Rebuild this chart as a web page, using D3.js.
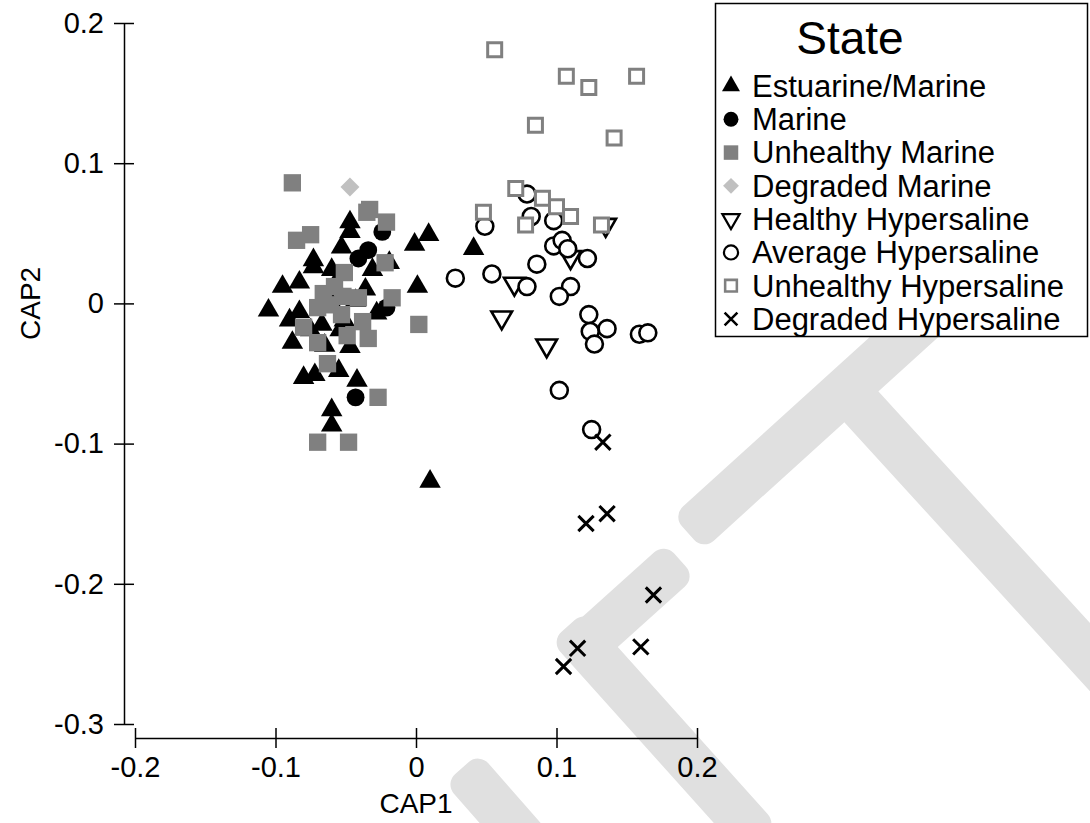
<!DOCTYPE html>
<html>
<head>
<meta charset="utf-8">
<script src="https://cdn.jsdelivr.net/npm/d3@7"></script>
<style>
  html, body { margin: 0; padding: 0; background: #ffffff; }
  svg { display: block; font-family: "Liberation Sans", Arial, sans-serif; }
</style>
</head>
<body>
<svg id="chart" width="1090" height="823"></svg>
<script>
// CAP ordination scores (CAP1, CAP2) for each sample, grouped by state
const estuarineMarine = [
  [-0.105, -0.005], [-0.095, 0.012], [-0.083, 0.015], [-0.083, -0.006], [-0.073, 0.031],
  [-0.073, 0.026], [-0.060, 0.024], [-0.053, 0.040], [-0.047, 0.058], [-0.047, 0.051],
  [-0.031, 0.024], [-0.019, 0.029], [-0.001, 0.042], [0.009, 0.049], [0.001, 0.012],
  [-0.028, -0.007], [-0.088, -0.028], [-0.080, -0.053], [-0.072, -0.051], [-0.055, -0.048],
  [-0.042, -0.055], [-0.060, -0.076], [-0.060, -0.087], [-0.047, -0.031], [0.041, 0.039],
  [0.010, -0.127], [-0.061, 0.002], [-0.054, -0.019], [-0.065, -0.030], [-0.051, -0.012],
  [-0.043, 0.002], [-0.075, -0.019], [-0.090, -0.012], [-0.067, -0.015], [-0.036, 0.010],
  [-0.058, 0.013]
];
const marine = [
  [-0.043, -0.067], [-0.021, -0.003], [-0.024, 0.051], [-0.034, 0.038], [-0.041, 0.032]
];
const unhealthyMarine = [
  [-0.088, 0.086], [-0.085, 0.045], [-0.075, 0.049], [-0.035, 0.065], [-0.033, 0.067],
  [-0.021, 0.058], [-0.022, 0.029], [-0.051, 0.022], [-0.066, 0.007], [-0.052, 0.005],
  [-0.041, 0.004], [-0.017, 0.004], [-0.070, -0.003], [-0.053, -0.008], [-0.038, -0.013],
  [-0.080, -0.017], [-0.049, -0.023], [-0.034, -0.025], [-0.070, -0.028], [-0.063, -0.043],
  [0.002, -0.015], [-0.027, -0.067], [-0.070, -0.099], [-0.048, -0.099], [-0.061, -0.001],
  [-0.058, 0.012]
];
const degradedMarine = [
  [-0.047, 0.083]
];
const healthyHypersaline = [
  [0.135, 0.056], [0.110, 0.033], [0.070, 0.014], [0.061, -0.010], [0.093, -0.030]
];
const averageHypersaline = [
  [0.079, 0.078], [0.082, 0.062], [0.098, 0.059], [0.049, 0.055], [0.098, 0.041],
  [0.104, 0.045], [0.108, 0.039], [0.122, 0.032], [0.086, 0.028], [0.028, 0.018],
  [0.054, 0.021], [0.079, 0.012], [0.110, 0.012], [0.102, 0.005], [0.123, -0.008],
  [0.124, -0.020], [0.136, -0.018], [0.127, -0.029], [0.159, -0.022], [0.165, -0.021],
  [0.102, -0.062], [0.125, -0.090]
];
const unhealthyHypersaline = [
  [0.056, 0.181], [0.107, 0.162], [0.123, 0.154], [0.157, 0.162], [0.085, 0.127],
  [0.141, 0.118], [0.071, 0.082], [0.090, 0.075], [0.100, 0.069], [0.110, 0.062],
  [0.048, 0.065], [0.078, 0.056], [0.132, 0.056]
];
const degradedHypersaline = [
  [0.133, -0.099], [0.121, -0.157], [0.136, -0.150], [0.169, -0.208], [0.115, -0.246],
  [0.105, -0.259], [0.160, -0.245]
];

const stateNames = [
  "Estuarine/Marine", "Marine", "Unhealthy Marine", "Degraded Marine",
  "Healthy Hypersaline", "Average Hypersaline", "Unhealthy Hypersaline", "Degraded Hypersaline"
];
const xTicks = [-0.2, -0.1, 0, 0.1, 0.2];
const yTicks = [0.2, 0.1, 0, -0.1, -0.2, -0.3];
const xTitle = "CAP1";
const yTitle = "CAP2";
const legendTitle = "State";

// Marker styling for each state (same order as stateNames)
const styles = [
  { data: estuarineMarine,      type: d3.symbolTriangle, size: 200, fill: "#000", stroke: "none", sw: 0, rot: 0 },
  { data: marine,               type: d3.symbolCircle,   size: 250, fill: "#000", stroke: "none", sw: 0, rot: 0 },
  { data: unhealthyMarine,      type: d3.symbolSquare,   size: 300, fill: "#808080", stroke: "none", sw: 0, rot: 0 },
  { data: degradedMarine,       type: d3.symbolSquare,   size: 180, fill: "#c0c0c0", stroke: "none", sw: 0, rot: 45 },
  { data: healthyHypersaline,   type: d3.symbolTriangle, size: 185, fill: "#fff", stroke: "#000", sw: 2.6, rot: 180 },
  { data: averageHypersaline,   type: d3.symbolCircle,   size: 225, fill: "#fff", stroke: "#000", sw: 2.6, rot: 0 },
  { data: unhealthyHypersaline, type: d3.symbolSquare,   size: 196, fill: "#fff", stroke: "#808080", sw: 3, rot: 0 },
  { data: degradedHypersaline,  type: d3.symbolTimes,    size: 155, fill: "none", stroke: "#000", sw: 3, rot: 0 }
];

const svg = d3.select("#chart");

// Pale diagonal background lettering (page watermark), drawn first so everything sits on top
const wm = svg.append("g").attr("fill", "#e0e0e0");
function band(x1, y1, x2, y2, w) {
  const len = Math.hypot(x2 - x1, y2 - y1);
  const ang = Math.atan2(y2 - y1, x2 - x1) * 180 / Math.PI;
  wm.append("rect")
    .attr("transform", `translate(${x1},${y1})rotate(${ang})`)
    .attr("x", 0).attr("y", -w / 2).attr("width", len).attr("height", w)
    .attr("rx", 14);
}
band(462, 768, 560, 880, 46);
band(568, 626, 760, 840, 46);
band(570, 659, 680, 560, 46);
band(688, 533, 1000, 250, 46);
band(845, 389, 1120, 690, 46);

const x = d3.scaleLinear().domain([-0.2, 0.2]).range([135, 697]);
const y = d3.scaleLinear().domain([-0.3, 0.2]).range([724, 23]);
const fmt = v => (v === 0 ? "0" : v.toFixed(1));
const font = "'Liberation Sans', Arial, sans-serif";

// Y axis, offset to the left of the plotting area; ticks cross the line
const yAxisX = 124;
const gy = svg.append("g")
  .attr("transform", `translate(${yAxisX},0)`)
  .call(d3.axisLeft(y).tickValues(yTicks).tickFormat(fmt).tickSizeInner(10).tickSizeOuter(0).tickPadding(10));
gy.select(".domain").attr("stroke", "#000").attr("stroke-width", 1.5);
gy.selectAll(".tick line").attr("x1", 10).attr("stroke", "#000").attr("stroke-width", 1.5);
gy.selectAll(".tick text").attr("font-size", 29).attr("fill", "#000").style("font-family", font);

// X axis, offset below the plotting area
const xAxisY = 738;
const gx = svg.append("g")
  .attr("transform", `translate(0,${xAxisY})`)
  .call(d3.axisBottom(x).tickValues(xTicks).tickFormat(fmt).tickSizeInner(10).tickSizeOuter(0).tickPadding(8));
gx.select(".domain").attr("stroke", "#000").attr("stroke-width", 1.5);
gx.selectAll(".tick line").attr("y1", -10).attr("stroke", "#000").attr("stroke-width", 1.5);
gx.selectAll(".tick text").attr("font-size", 29).attr("fill", "#000").style("font-family", font);

// Axis titles
svg.append("text")
  .attr("x", (x(-0.2) + x(0.2)) / 2).attr("y", 813)
  .attr("text-anchor", "middle").attr("font-size", 28).text(xTitle);
svg.append("text")
  .attr("transform", `translate(40,${y(0)})rotate(-90)`)
  .attr("text-anchor", "middle").attr("font-size", 28).text(yTitle);

// Points
styles.forEach(s => {
  svg.append("g").selectAll("path")
    .data(s.data)
    .join("path")
    .attr("d", d3.symbol().type(s.type).size(s.size)())
    .attr("transform", d => `translate(${x(d[0])},${y(d[1])})rotate(${s.rot})`)
    .attr("fill", s.fill)
    .attr("stroke", s.stroke)
    .attr("stroke-width", s.sw);
});

// Legend
const lg = svg.append("g");
lg.append("rect")
  .attr("x", 715.5).attr("y", 3.5).attr("width", 372).attr("height", 333)
  .attr("fill", "#fff").attr("stroke", "#000").attr("stroke-width", 1.5);
lg.append("text")
  .attr("x", 850).attr("y", 54)
  .attr("text-anchor", "middle").attr("font-size", 46).text(legendTitle);
const rowY = d3.scalePoint().domain(stateNames).range([86, 319]);
stateNames.forEach((name, i) => {
  const s = styles[i];
  const k = 0.7;
  lg.append("path")
    .attr("d", d3.symbol().type(s.type).size(s.size * k)())
    .attr("transform", `translate(731,${rowY(name)})rotate(${s.rot})`)
    .attr("fill", s.fill).attr("stroke", s.stroke).attr("stroke-width", s.sw * 0.85);
  lg.append("text")
    .attr("x", 752).attr("y", rowY(name))
    .attr("dy", "0.35em").attr("font-size", 31).text(name);
});
</script>
</body>
</html>
